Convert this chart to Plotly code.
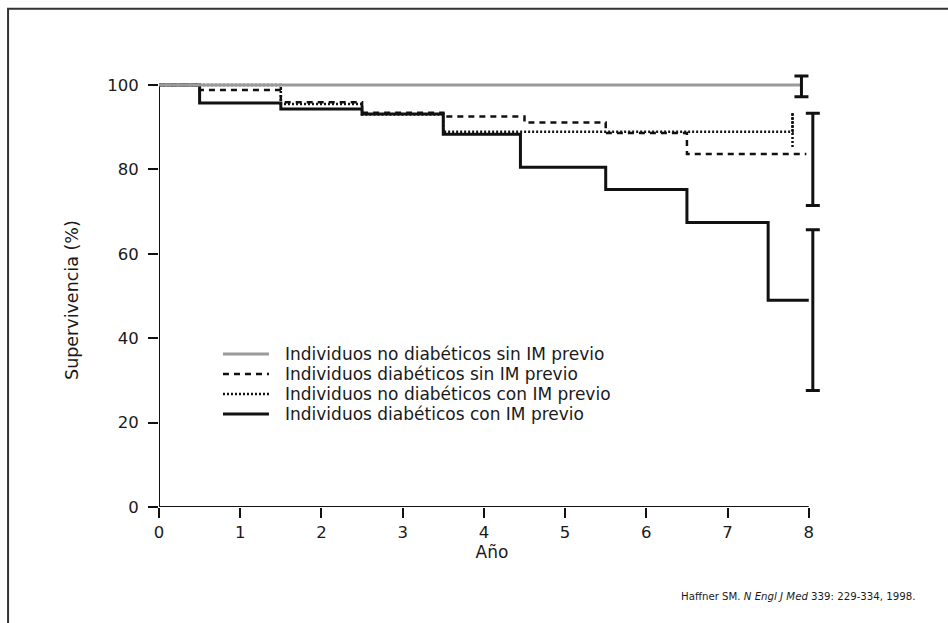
import plotly.graph_objects as go

# ---- data ----
# Kaplan-Meier step curves: time of each step (years) and survival (%) after it
t_nd_sin = [0, 7.9]
s_nd_sin = [100, 100]

t_d_sin = [0, 0.5, 1.5, 2.5, 3.5, 4.5, 5.5, 6.5, 7.97]
s_d_sin = [100, 98.8, 95.9, 93.4, 92.5, 91.1, 88.6, 83.6, 83.6]

t_nd_con = [0, 1.5, 2.5, 3.5, 7.8]
s_nd_con = [100, 95.5, 93.0, 88.9, 93.6]

t_d_con = [0, 0.5, 1.5, 2.5, 3.5, 4.45, 5.5, 6.5, 7.5, 8.0]
s_d_con = [100, 95.7, 94.3, 93.1, 88.3, 80.5, 75.2, 67.4, 49.0, 49.0]

# 95% confidence intervals at the end of follow-up
ci_x = [7.91, 8.05, 8.05]
ci_center = [100, 83.6, 49.0]
ci_low = [97.2, 71.4, 27.6]
ci_high = [102.1, 93.3, 65.7]

# dotted-curve interval (no caps)
ci_dot_x = [7.8, 7.8]
ci_dot_y = [85.3, 93.6]

labels = [
    "Individuos no diabéticos sin IM previo",
    "Individuos diabéticos sin IM previo",
    "Individuos no diabéticos con IM previo",
    "Individuos diabéticos con IM previo",
]
x_ticks = [0, 1, 2, 3, 4, 5, 6, 7, 8]
y_ticks = [0, 20, 40, 60, 80, 100]
x_axis_span = [0, 8]
y_axis_span = [0, 100]

FONT = "DejaVu Sans"
W, H = 948, 623
XR = [0, 8.2]
YR = [0, 104]
PX_PER_X = 81.25
PX_PER_Y = 4.22
L = 159
B = 116
PW = PX_PER_X * (XR[1] - XR[0])
PH = PX_PER_Y * (YR[1] - YR[0])
R = W - L - PW
T = H - B - PH


def px_x(p):
    return (p - L) / PW


def px_y(p):
    return (H - B - p) / PH


GRAY = "#9a9a9a"
BLACK = "#111111"
TXT = "#1a1a1a"
styles = [
    dict(color=GRAY, width=3, dash="solid"),
    dict(color=BLACK, width=2.5, dash="6px,5px"),
    dict(color=BLACK, width=2.5, dash="2px,2px"),
    dict(color=BLACK, width=3, dash="solid"),
]

fig = go.Figure()
series = [(t_nd_sin, s_nd_sin), (t_d_sin, s_d_sin), (t_nd_con, s_nd_con), (t_d_con, s_d_con)]
for i in [1, 2, 3, 0]:
    t, s = series[i]
    fig.add_trace(go.Scatter(x=t, y=s, mode="lines", line=dict(shape="hv", **styles[i]),
                             showlegend=False, hoverinfo="skip"))

fig.add_trace(go.Scatter(x=ci_dot_x, y=ci_dot_y, mode="lines", line=styles[2],
                         showlegend=False, hoverinfo="skip"))

fig.add_trace(go.Scatter(
    x=ci_x, y=ci_center, mode="markers",
    marker=dict(size=1, color="rgba(0,0,0,0)"),
    error_y=dict(type="data", symmetric=False,
                 array=[h - c for h, c in zip(ci_high, ci_center)],
                 arrayminus=[c - l for l, c in zip(ci_low, ci_center)],
                 color=BLACK, thickness=3, width=7),
    showlegend=False, hoverinfo="skip"))

# axis lines spanning only the labelled range
fig.add_shape(type="line", xref="x", yref="y", x0=x_axis_span[0], x1=x_axis_span[1],
              y0=0, y1=0, line=dict(color=BLACK, width=2), layer="below")
fig.add_shape(type="line", xref="x", yref="y", x0=0, x1=0,
              y0=y_axis_span[0], y1=y_axis_span[1], line=dict(color=BLACK, width=2), layer="below")

# manual legend
leg_y = [354, 374, 394, 414]
for i, lab in enumerate(labels):
    yy = px_y(leg_y[i])
    st = styles[i]
    fig.add_shape(type="line", xref="paper", yref="paper",
                  x0=px_x(223), x1=px_x(269), y0=yy, y1=yy,
                  line=dict(color=st["color"], width=st["width"], dash=st["dash"]))
    fig.add_annotation(xref="paper", yref="paper", x=px_x(283), y=yy, text=lab,
                       showarrow=False, xanchor="left", yanchor="middle",
                       font=dict(family=FONT, size=17, color=TXT))

# frame around whole figure
fig.add_shape(type="rect", xref="paper", yref="paper",
              x0=px_x(8), x1=px_x(960), y0=px_y(9), y1=px_y(640),
              line=dict(color="#333", width=2))

# y-axis title
fig.add_annotation(xref="paper", yref="paper", x=px_x(72), y=px_y(300),
                   xanchor="center", yanchor="middle", showarrow=False, textangle=-90,
                   text="Supervivencia (%)", font=dict(family=FONT, size=17.5, color=TXT))

# citation
fig.add_annotation(xref="paper", yref="paper", x=px_x(917), y=px_y(596),
                   xanchor="right", yanchor="middle", showarrow=False,
                   text="Haffner SM. <i>N Engl J Med</i> 339: 229-334, 1998.",
                   font=dict(family=FONT, size=10.2, color=TXT))

axis_common = dict(showline=False, ticks="outside",
                   ticklen=10, tickwidth=2, tickcolor=BLACK, showgrid=False,
                   zeroline=False, tickfont=dict(family=FONT, size=16.5, color=TXT))

fig.update_xaxes(range=XR, tickvals=x_ticks, **axis_common,
                 title=dict(text="Año", font=dict(family=FONT, size=17, color=TXT), standoff=2))
fig.update_yaxes(range=YR, tickvals=y_ticks, ticklabelstandoff=6, **axis_common)

fig.update_layout(width=W, height=H, margin=dict(l=L, r=R, t=T, b=B, autoexpand=False),
                  plot_bgcolor="white", paper_bgcolor="white",
                  font=dict(family=FONT, color=TXT))

fig.write_html("out.html")
